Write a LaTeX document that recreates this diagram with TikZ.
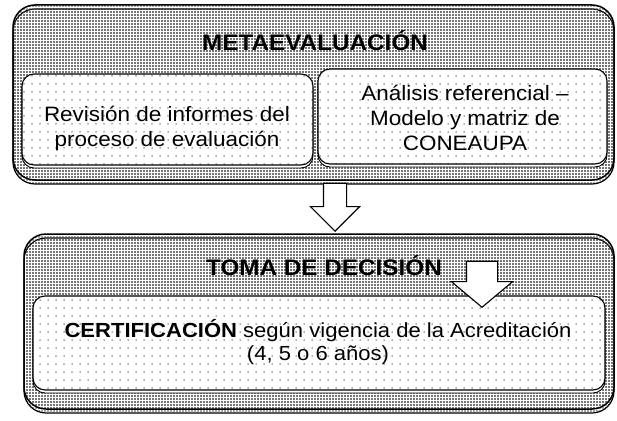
\documentclass[tikz,border=0pt]{standalone}
\usepackage{fontspec}
\setmainfont{Liberation Sans}[FakeStretch=1.08]
\usetikzlibrary{patterns.meta,shadows,shapes.arrows}
\tikzset{
  densedots/.style={pattern={Dots[radius=0.85pt,distance=3pt]}, pattern color=black!72},
  sparsedots/.style={pattern={Dots[radius=0.75pt,distance=8pt]}, pattern color=black!65},
  outerbox/.style={rectangle, rounded corners=22pt, inner sep=0pt,
    general shadow={shadow yshift=-4pt, draw=black, line width=1.2pt, densedots},
    draw=black, line width=1.5pt, densedots},
  innerbox/.style={rectangle, rounded corners=12pt, inner sep=0pt,
    general shadow={shadow yshift=-3pt, draw=black, line width=0.9pt, fill=white},
    preaction={fill=white}, draw=black, line width=1.1pt, sparsedots},
  titletext/.style={font=\fontsize{22.5}{26}\selectfont\bfseries, anchor=base, inner sep=0pt},
  bodytext/.style={font=\fontsize{20.8}{25}\selectfont, align=center, inner sep=0pt},
  blockarrow/.style={single arrow, draw=black, fill=white, line width=1.1pt, rotate=-90,
    inner xsep=0pt, single arrow head indent=0pt, anchor=tip},
}
\begin{document}
\begin{tikzpicture}[x=1pt,y=-1pt]
\useasboundingbox (0,0) rectangle (617,420);
% upper block
\node[outerbox, minimum width=601pt, minimum height=175pt] (meta) at (313.5,92.5) {};
\node[titletext] (metatitle) at (315,50) {METAEVALUACIÓN};
\node[innerbox, minimum width=291pt, minimum height=91pt] (revbox) at (167.5,119.5) {};
\node[innerbox, minimum width=289pt, minimum height=95pt] (analbox) at (462.5,116.5) {};
\node[bodytext] (revtext) at (167,128.8) {Revisión de informes del\\proceso de evaluación};
\node[bodytext] (analtext) at (465,118) {Análisis referencial –\\Modelo y matriz de\\CONEAUPA};
% lower block
\node[outerbox, minimum width=590pt, minimum height=175pt] (toma) at (319,321.5) {};
\node[titletext] (tomatitle) at (324,275) {TOMA DE DECISIÓN};
\node[innerbox, minimum width=572pt, minimum height=94pt] (certbox) at (319,343) {};
\node[bodytext, font=\fontsize{20.4}{23}\selectfont] (certtext) at (318,341.7)
  {\textbf{CERTIFICACIÓN} según vigencia de la Acreditación\\(4, 5 o 6 años)};
% arrows
\node[blockarrow, minimum height=48pt, minimum width=48pt, inner ysep=11pt,
  single arrow head extend=13pt, single arrow tip angle=90] (arrowone) at (335,232) {};
\node[blockarrow, minimum height=46pt, minimum width=60pt, inner ysep=15pt,
  single arrow head extend=15pt, single arrow tip angle=100] (arrowtwo) at (482,308) {};
\end{tikzpicture}
\end{document}
